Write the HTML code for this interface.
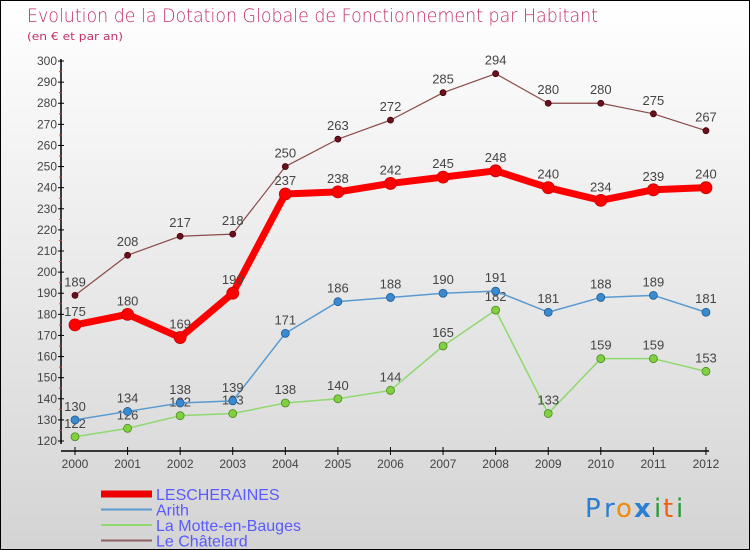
<!DOCTYPE html>
<html><head><meta charset="utf-8">
<style>
body{margin:0;}
#c{position:relative;width:748px;height:548px;border:1px solid #000;background:linear-gradient(#ffffff,#d4d4d4);font-family:"DejaVu Sans","Liberation Sans",sans-serif;overflow:hidden;}
</style></head><body>
<div id="c">
<svg id="s" width="748" height="548" xmlns="http://www.w3.org/2000/svg">
<text x="26" y="21" font-size="19" fill="#c0306a" textLength="571" lengthAdjust="spacingAndGlyphs" font-family="DejaVu Sans, sans-serif" font-weight="200">Evolution de la Dotation Globale de Fonctionnement par Habitant</text>
<text x="26" y="39" font-size="11" fill="#c0306a" textLength="96" lengthAdjust="spacingAndGlyphs">(en € et par an)</text>
<g id="axes"></g><g id="series"></g>
<g id="legend"></g>
<g font-size="26" font-family="DejaVu Sans, sans-serif">
<text x="584" y="516" fill="#2a7fd0">P</text><text x="603" y="516" fill="#2a7fd0">r</text><text x="615" y="516" fill="#f08a10">o</text><text x="633" y="516" fill="#2a7fd0" font-weight="bold">x</text><text x="653" y="516" fill="#2a9a3a">i</text><text x="662" y="516" fill="#f06010">t</text><text x="675" y="516" fill="#2a9a3a">i</text>
</g>
</svg>
</div>
<script>
const years=[2000,2001,2002,2003,2004,2005,2006,2007,2008,2009,2010,2011,2012];
const yTicks=[120,130,140,150,160,170,180,190,200,210,220,230,240,250,260,270,280,290,300];
const lescheraines=[175,180,169,190,237,238,242,245,248,240,234,239,240];
const arith=[130,134,138,139,171,186,188,190,191,181,188,189,181];
const motte=[122,126,132,133,138,140,144,165,182,133,159,159,153];
const chatelard=[189,208,217,218,250,263,272,285,294,280,280,275,267];
const NS="http://www.w3.org/2000/svg";
const X=i=>74+i*52.58;
const Y=v=>440-(v-120)*2.111;
function mk(t,a,p){const e=document.createElementNS(NS,t);for(const k in a)e.setAttribute(k,a[k]);p.appendChild(e);return e;}
const ax=document.getElementById('axes');
mk('line',{x1:60,y1:58,x2:60,y2:443,stroke:'#000','stroke-width':1.5},ax);
mk('line',{x1:60,y1:450,x2:708,y2:450,stroke:'#000','stroke-width':1.5},ax);
yTicks.forEach(v=>{
 mk('line',{x1:57,y1:Y(v),x2:63,y2:Y(v),stroke:'#000'},ax);
 if(v<300) mk('line',{x1:58,y1:Y(v+5),x2:61,y2:Y(v+5),stroke:'#e03030'},ax);
 const t=mk('text',{x:56,y:Y(v)+4,'text-anchor':'end','font-size':12,fill:'#444','font-family':'Liberation Sans, sans-serif'},ax);t.textContent=v;
 
 
});
years.forEach((y,i)=>{
 mk('line',{x1:X(i),y1:446,x2:X(i),y2:454,stroke:'#000'},ax);
 const t=mk('text',{x:X(i),y:467,'text-anchor':'middle','font-size':12,fill:'#444','font-family':'Liberation Sans, sans-serif'},ax);t.textContent=y;
 
 
});
const sg=document.getElementById('series');
function series(name,data,color,w,r,dot,dark){
 const g=mk('g',{},sg);
 
 
 mk('polyline',{points:data.map((v,i)=>X(i)+','+Y(v)).join(' '),fill:'none',stroke:color,'stroke-width':w,'stroke-linejoin':'round'},g);
 data.forEach((v,i)=>{
  const c=mk('circle',{cx:X(i),cy:Y(v),r:r,fill:dot,stroke:dark,'stroke-width':0.8},g);
  
  
  const t=mk('text',{x:X(i),y:Y(v)-9,'text-anchor':'middle','font-size':13,fill:'#444','font-family':'Liberation Sans, sans-serif'},g);t.textContent=v;
  
  
 });
}
series('chatelard',chatelard,'#8b4a4a',1.2,3,'#6a1020','#400');
series('motte',motte,'#90d870',1.5,4,'#80d040','#4a8a20');
series('arith',arith,'#5a9ad0',1.5,4,'#3a8ad0','#205a90');
series('lescheraines',lescheraines,'#ff0000',7,6,'#ff0000','#c00');
const lg=document.getElementById('legend');
const L=[['LESCHERAINES','#ee0000',7],['Arith','#5a9ad0',2],['La Motte-en-Bauges','#90d870',2],['Le Châtelard','#906060',2]];
L.forEach((l,i)=>{
 const y=493+i*15.5;
 mk('line',{x1:100,y1:y,x2:151,y2:y,stroke:l[1],'stroke-width':l[2]},lg);
 const t=mk('text',{x:155,y:y+6,'font-size':16,fill:'#5a5aff','font-family':'Liberation Sans, sans-serif'},lg);t.textContent=l[0];
 
 
});
</script>
</body></html>
